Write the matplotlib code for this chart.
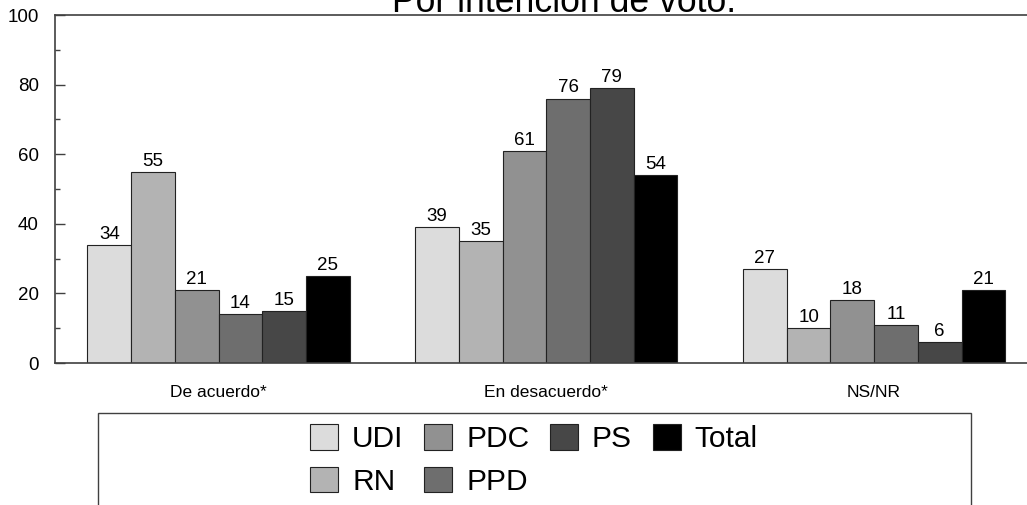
import numpy as np
import matplotlib
matplotlib.use("Agg")
import matplotlib.pyplot as plt
from matplotlib.patches import Rectangle
from matplotlib.ticker import MultipleLocator

categories = ['De acuerdo*', 'En desacuerdo*', 'NS/NR']
parties = ['UDI', 'RN', 'PDC', 'PPD', 'PS', 'Total']
udi = [34, 39, 27]
rn = [55, 35, 10]
pdc = [21, 61, 18]
ppd = [14, 76, 11]
ps = [15, 79, 6]
total = [25, 54, 21]
series = [udi, rn, pdc, ppd, ps, total]
colors = ['#dcdcdc', '#b3b3b3', '#919191', '#6e6e6e', '#474747', '#000000']

plt.rcParams['font.family'] = ['Liberation Sans', 'DejaVu Sans']

fig = plt.figure(figsize=(10.27, 5.05), dpi=100)
ax = fig.add_axes([54.7 / 1027, 142 / 505, (1038 - 54.7) / 1027, 348 / 505])

x = np.arange(len(categories))
w = 0.8 / len(series)
handles = []
for i, (name, vals, col) in enumerate(zip(parties, series, colors)):
    bars = ax.bar(x + (i - 2.5) * w, vals, w, color=col, edgecolor='#222222',
                  linewidth=0.8, label=name)
    ax.bar_label(bars, padding=1.5, fontsize=13.5)
    handles.append(bars)

ax.set_xlim(-0.5, 2.5)
ax.set_ylim(0, 100)
ax.set_xticks(x, categories, fontsize=12.5)
ax.tick_params(axis='x', length=0, pad=16)
ax.yaxis.set_major_locator(MultipleLocator(20))
ax.yaxis.set_minor_locator(MultipleLocator(10))
ax.tick_params(axis='y', which='major', direction='in', length=7, width=1,
               color='#404040', labelsize=13.5, pad=11.5)
ax.tick_params(axis='y', which='minor', direction='in', length=3.6, width=1,
               color='#404040')
for side in ['left', 'bottom', 'top']:
    ax.spines[side].set_color('#404040')
    ax.spines[side].set_linewidth(1.2)
ax.spines['right'].set_visible(False)

# title is partly clipped at the top edge, as in the source image
fig.text(564 / 1027, (505 - 12) / 505, 'Por intención de voto.', fontsize=25.7,
         ha='center', va='baseline')

fig.patches.append(Rectangle((98 / 1027, -0.1), 873 / 1027, (505 - 412.7) / 505 + 0.1,
                             transform=fig.transFigure, fill=False,
                             edgecolor='#404040', linewidth=1))
fig.legend(handles=handles, labels=parties, ncol=4, loc='center',
           bbox_to_anchor=(534 / 1027, 45 / 505), frameon=False, fontsize=21.5,
           handlelength=0.93, handleheight=0.93, handletextpad=0.47,
           columnspacing=0.7, labelspacing=0.45)

fig.savefig('out.png', dpi=100)
